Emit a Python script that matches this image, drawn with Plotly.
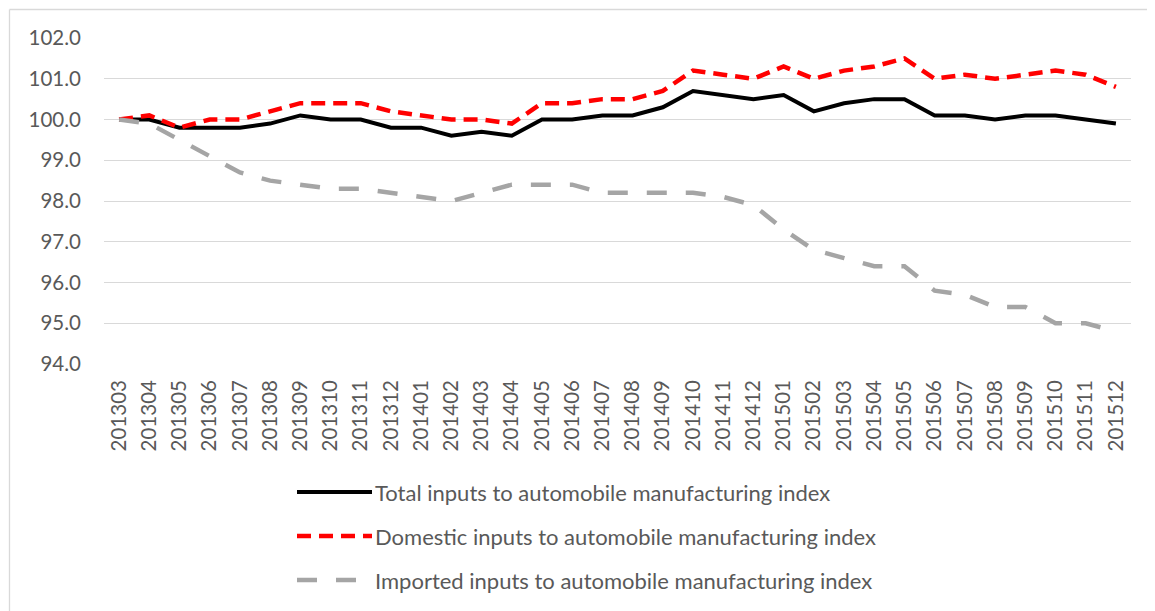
import plotly.graph_objects as go

months = ["201303","201304","201305","201306","201307","201308","201309","201310","201311","201312",
          "201401","201402","201403","201404","201405","201406","201407","201408","201409","201410","201411","201412",
          "201501","201502","201503","201504","201505","201506","201507","201508","201509","201510","201511","201512"]

total = [100.0, 100.0, 99.8, 99.8, 99.8, 99.9, 100.1, 100.0, 100.0, 99.8,
         99.8, 99.6, 99.7, 99.6, 100.0, 100.0, 100.1, 100.1, 100.3, 100.7, 100.6, 100.5,
         100.6, 100.2, 100.4, 100.5, 100.5, 100.1, 100.1, 100.0, 100.1, 100.1, 100.0, 99.9]

domestic = [100.0, 100.1, 99.8, 100.0, 100.0, 100.2, 100.4, 100.4, 100.4, 100.2,
            100.1, 100.0, 100.0, 99.9, 100.4, 100.4, 100.5, 100.5, 100.7, 101.2, 101.1, 101.0,
            101.3, 101.0, 101.2, 101.3, 101.5, 101.0, 101.1, 101.0, 101.1, 101.2, 101.1, 100.8]

imported = [100.0, 99.9, 99.5, 99.1, 98.7, 98.5, 98.4, 98.3, 98.3, 98.2,
            98.1, 98.0, 98.2, 98.4, 98.4, 98.4, 98.2, 98.2, 98.2, 98.2, 98.1, 97.9,
            97.3, 96.8, 96.6, 96.4, 96.4, 95.8, 95.7, 95.4, 95.4, 95.0, 95.0, 94.8]

names = ["Total inputs to automobile manufacturing index",
         "Domestic inputs to automobile manufacturing index",
         "Imported inputs to automobile manufacturing index"]

# page body has an 8px margin, so the figure is drawn 8px smaller and offset
W, H = 1147, 603
L, R, T, B = 96, 24, 30, 247
FONT = "Lato, 'Open Sans', sans-serif"
TXT = "#595959"

styles = [
    dict(color="#000000", width=4, dash="solid"),
    dict(color="#FF0000", width=4.5, dash="14px,8px"),
    dict(color="#A5A5A5", width=4.5, dash="20px,19px"),
]

fig = go.Figure()
for nm, ys, st in zip(names, [total, domestic, imported], styles):
    fig.add_trace(go.Scatter(x=months, y=ys, mode="lines", name=nm, line=st, showlegend=False))

pw, ph = W - L - R, H - T - B
def px_x(x):
    return (x - L) / pw
def px_y(y):
    return (H - B - y) / ph

shapes = []
annotations = []
leg_y = [484, 528, 572]
for nm, st, yy in zip(names, styles, leg_y):
    shapes.append(dict(type="line", xref="paper", yref="paper",
                       x0=px_x(289), x1=px_x(364), y0=px_y(yy), y1=px_y(yy),
                       line=dict(color=st["color"], width=st["width"], dash=st["dash"])))
    annotations.append(dict(xref="paper", yref="paper", x=px_x(365), y=px_y(yy),
                            text=nm, showarrow=False, xanchor="left", yanchor="middle",
                            font=dict(family=FONT, size=22, color=TXT)))

# chart border (top and left visible)
shapes.append(dict(type="line", xref="paper", yref="paper", x0=px_x(1.5), x1=px_x(W + 5),
                   y0=px_y(1.5), y1=px_y(1.5), line=dict(color="#D9D9D9", width=1.3)))
shapes.append(dict(type="line", xref="paper", yref="paper", x0=px_x(1.5), x1=px_x(1.5),
                   y0=px_y(1.5), y1=px_y(H + 5), line=dict(color="#D9D9D9", width=1.3)))

fig.update_layout(
    width=W, height=H,
    margin=dict(l=L, r=R, t=T, b=B, autoexpand=False),
    paper_bgcolor="white", plot_bgcolor="white",
    font=dict(family=FONT, size=20, color=TXT),
    shapes=shapes, annotations=annotations,
    showlegend=False,
)
fig.update_xaxes(type="category", range=[-0.5, 33.5], tickangle=-90, showgrid=False,
                 showline=False, ticks="", ticklabelstandoff=11,
                 tickfont=dict(family=FONT, size=20.5, color=TXT))
fig.update_yaxes(range=[94, 102], dtick=1, tickformat=".1f", showgrid=True,
                 gridcolor="#D9D9D9", gridwidth=1.3, zeroline=False, showline=False,
                 ticks="", ticklabelstandoff=22, tickfont=dict(family=FONT, size=20.5, color=TXT))

fig.write_html("out.html")
